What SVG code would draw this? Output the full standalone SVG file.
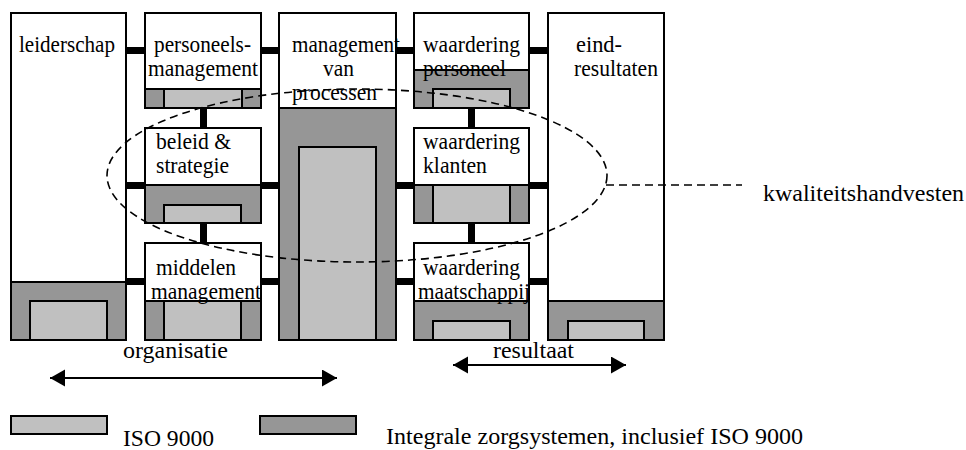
<svg xmlns="http://www.w3.org/2000/svg" width="966" height="450" viewBox="0 0 966 450" font-family="Liberation Serif, Times New Roman, serif">
  <defs>
    <style>
      .box   { fill: #ffffff; stroke: #000; stroke-width: 2; }
      .dark  { fill: #969696; stroke: #000; stroke-width: 2; }
      .light { fill: #c0c0c0; stroke: #000; stroke-width: 2; }
      .bar   { fill: #000; }
      .lbl   { font-size: 23px; fill: #000; }
      .cap   { font-size: 24px; fill: #000; }
      .dash  { fill: none; stroke: #000; stroke-width: 1.6; stroke-dasharray: 8 5; }
      .arrow { stroke: #000; stroke-width: 2; fill: none; }
    </style>
    <marker id="head" markerUnits="userSpaceOnUse" markerWidth="16" markerHeight="18"
            refX="15" refY="8.5" orient="auto-start-reverse" viewBox="0 0 16 18">
      <path d="M0,0 L15,8.5 L0,17 Z" fill="#000"/>
    </marker>
  </defs>

  <!-- thick links between the blocks -->
  <g id="connectors">
    <rect class="bar" x="120" y="47" width="32" height="7"/>
    <rect class="bar" x="255" y="47" width="30" height="7"/>
    <rect class="bar" x="390" y="47" width="30" height="7"/>
    <rect class="bar" x="523" y="47" width="31" height="7"/>

    <rect class="bar" x="120" y="182" width="32" height="7"/>
    <rect class="bar" x="255" y="182" width="30" height="7"/>
    <rect class="bar" x="390" y="182" width="30" height="7"/>
    <rect class="bar" x="523" y="182" width="31" height="7"/>

    <rect class="bar" x="120" y="278" width="32" height="7"/>
    <rect class="bar" x="255" y="278" width="30" height="7"/>
    <rect class="bar" x="390" y="278" width="30" height="7"/>
    <rect class="bar" x="523" y="278" width="31" height="7"/>

    <rect class="bar" x="200" y="104" width="7" height="28"/>
    <rect class="bar" x="200" y="219" width="7" height="28"/>
    <rect class="bar" x="468" y="104" width="7" height="28"/>
    <rect class="bar" x="468" y="219" width="7" height="28"/>
  </g>

  <g id="leiderschap">
    <rect class="box" x="11" y="13" width="115" height="327"/>
    <rect class="dark" x="11" y="282" width="115" height="58"/>
    <rect class="light" x="30" y="301" width="77" height="39"/>
    <text class="lbl" x="19" y="52" textLength="96" lengthAdjust="spacingAndGlyphs">leiderschap</text>
  </g>

  <g id="personeelsmanagement">
    <rect class="box" x="145" y="13" width="116" height="76"/>
    <rect class="dark" x="145" y="89" width="116" height="19"/>
    <rect class="light" x="164" y="89" width="78" height="19"/>
    <text class="lbl" x="154" y="52" textLength="97" lengthAdjust="spacingAndGlyphs">personeels-</text>
    <text class="lbl" x="148" y="76" textLength="110" lengthAdjust="spacingAndGlyphs">management</text>
  </g>

  <g id="beleid-strategie">
    <rect class="box" x="145" y="128" width="116" height="57"/>
    <rect class="dark" x="145" y="185" width="116" height="38"/>
    <rect class="light" x="164" y="205" width="77" height="18"/>
    <text class="lbl" x="156" y="149" textLength="75" lengthAdjust="spacingAndGlyphs">beleid &amp;</text>
    <text class="lbl" x="156" y="173" textLength="73" lengthAdjust="spacingAndGlyphs">strategie</text>
  </g>

  <g id="middelen-management">
    <rect class="box" x="145" y="243" width="116" height="58"/>
    <rect class="dark" x="145" y="301" width="116" height="39"/>
    <rect class="light" x="164" y="301" width="77" height="39"/>
    <text class="lbl" x="156" y="275" textLength="80" lengthAdjust="spacingAndGlyphs">middelen</text>
    <text class="lbl" x="151" y="299" textLength="110" lengthAdjust="spacingAndGlyphs">management</text>
  </g>

  <g id="management-van-processen">
    <rect class="box" x="279" y="13" width="117" height="95"/>
    <rect class="dark" x="279" y="108" width="117" height="232"/>
    <rect class="light" x="299" y="147" width="77" height="193"/>
    <text class="lbl" x="292" y="52" textLength="108" lengthAdjust="spacingAndGlyphs">management</text>
    <text class="lbl" x="323" y="76" textLength="31" lengthAdjust="spacingAndGlyphs">van</text>
    <text class="lbl" x="292" y="100" textLength="85" lengthAdjust="spacingAndGlyphs">processen</text>
  </g>

  <g id="waardering-personeel">
    <rect class="box" x="414" y="13" width="115" height="57"/>
    <rect class="dark" x="414" y="70" width="115" height="38"/>
    <rect class="light" x="433" y="89" width="77" height="19"/>
    <text class="lbl" x="423" y="52" textLength="97" lengthAdjust="spacingAndGlyphs">waardering</text>
    <text class="lbl" x="423" y="76" textLength="83" lengthAdjust="spacingAndGlyphs">personeel</text>
  </g>

  <g id="waardering-klanten">
    <rect class="box" x="414" y="128" width="115" height="57"/>
    <rect class="dark" x="414" y="185" width="115" height="38"/>
    <rect class="light" x="433" y="185" width="77" height="38"/>
    <text class="lbl" x="423" y="149" textLength="97" lengthAdjust="spacingAndGlyphs">waardering</text>
    <text class="lbl" x="423" y="173" textLength="64" lengthAdjust="spacingAndGlyphs">klanten</text>
  </g>

  <g id="waardering-maatschappij">
    <rect class="box" x="414" y="243" width="115" height="58"/>
    <rect class="dark" x="414" y="301" width="115" height="39"/>
    <rect class="light" x="433" y="321" width="77" height="19"/>
    <text class="lbl" x="423" y="275" textLength="97" lengthAdjust="spacingAndGlyphs">waardering</text>
    <text class="lbl" x="418" y="299" textLength="112" lengthAdjust="spacingAndGlyphs">maatschappij</text>
  </g>

  <g id="eindresultaten">
    <rect class="box" x="548" y="13" width="116" height="288"/>
    <rect class="dark" x="548" y="301" width="116" height="39"/>
    <rect class="light" x="568" y="321" width="76" height="19"/>
    <text class="lbl" x="576" y="52" textLength="46" lengthAdjust="spacingAndGlyphs">eind-</text>
    <text class="lbl" x="574" y="76" textLength="84" lengthAdjust="spacingAndGlyphs">resultaten</text>
  </g>

  <!-- dashed outline of the charter area with its callout -->
  <g id="kwaliteitshandvesten">
    <ellipse class="dash" cx="357" cy="175.5" rx="250" ry="86.5"/>
    <line class="dash" x1="606" y1="185" x2="742" y2="185"/>
    <text class="cap" x="763" y="201" textLength="201" lengthAdjust="spacingAndGlyphs">kwaliteitshandvesten</text>
  </g>

  <!-- range arrows -->
  <g id="organisatie">
    <text class="cap" x="123" y="358" textLength="105" lengthAdjust="spacingAndGlyphs">organisatie</text>
    <line class="arrow" x1="50" y1="378" x2="337" y2="378" marker-start="url(#head)" marker-end="url(#head)"/>
  </g>
  <g id="resultaat">
    <text class="cap" x="493" y="358" textLength="81" lengthAdjust="spacingAndGlyphs">resultaat</text>
    <line class="arrow" x1="453" y1="365" x2="626" y2="365" marker-start="url(#head)" marker-end="url(#head)"/>
  </g>

  <!-- legend -->
  <g id="legend">
    <rect class="light" x="11" y="416" width="96" height="18"/>
    <text class="cap" x="123" y="446" textLength="91" lengthAdjust="spacingAndGlyphs">ISO 9000</text>
    <rect class="dark" x="260" y="416" width="96" height="18"/>
    <text class="cap" x="386" y="444" textLength="417" lengthAdjust="spacingAndGlyphs">Integrale zorgsystemen, inclusief ISO 9000</text>
  </g>
</svg>
